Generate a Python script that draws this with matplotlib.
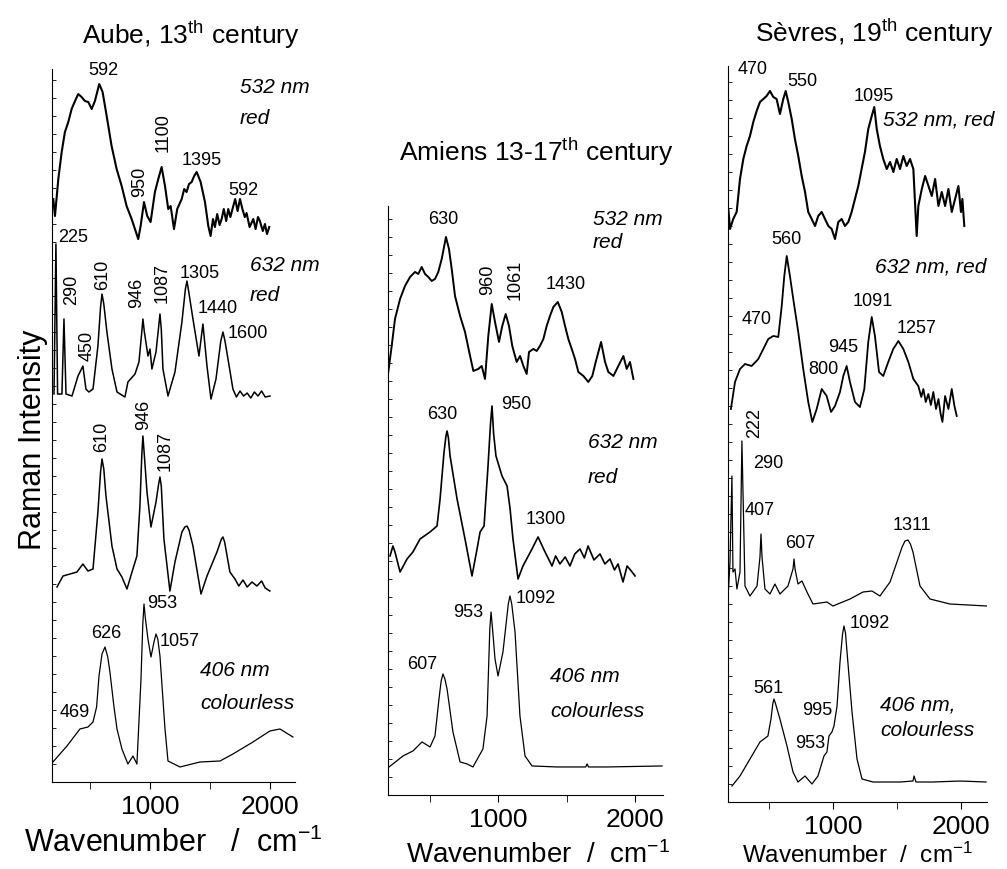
import numpy as np
import matplotlib.pyplot as plt

plt.rcParams['font.family'] = ['Liberation Sans', 'DejaVu Sans']
plt.rcParams['mathtext.fontset'] = 'custom'
plt.rcParams['mathtext.rm'] = 'Liberation Sans'
plt.rcParams['mathtext.it'] = 'Liberation Sans:italic'

# ---- Aube, 13th century ----
aube_532_wn = [194, 208, 236, 264, 291, 319, 347, 375, 402, 430, 458, 486, 514, 541, 577, 605,
               639, 680, 722, 764, 805, 847, 883, 902, 922, 950, 977, 1005, 1041, 1069, 1097,
               1125, 1152, 1172, 1200, 1227, 1264, 1285, 1305, 1325, 1347, 1368, 1389, 1422,
               1458, 1486, 1505, 1525, 1541, 1560, 1580, 1597, 1615, 1635, 1652, 1670, 1694,
               1710, 1730, 1750, 1770, 1790, 1805, 1830, 1861, 1880, 1900, 1916, 1940, 1958,
               1975, 1994]
aube_532_int = [40, 23, 60, 87, 107, 117, 130, 138, 145, 142, 138, 137, 130, 138, 155, 147,
                123, 93, 70, 53, 33, 20, 7, 0, 13, 37, 23, 17, 47, 60, 72,
                53, 30, 33, 10, 30, 40, 50, 47, 55, 57, 63, 67, 57,
                37, 13, 3, 20, 12, 25, 14, 20, 30, 18, 30, 22, 33,
                40, 28, 40, 30, 22, 26, 12, 20, 10, 22, 18, 8, 15,
                5, 12]

aube_632_wn = [200, 216, 230, 266, 283, 300, 350, 400, 441, 466, 491, 525, 566, 588, 600, 615,
               641, 683, 725, 791, 816, 875, 908, 930, 941, 952, 983, 1000, 1016, 1050, 1072,
               1083, 1094, 1108, 1150, 1208, 1266, 1295, 1308, 1322, 1358, 1408, 1441, 1475,
               1508, 1550, 1590, 1608, 1625, 1650, 1691, 1720, 1750, 1780, 1810, 1840, 1870,
               1900, 1930, 1960, 2000]
aube_632_int = [5, 155, 5, 5, 80, 5, 3, 23, 33, 10, 7, 10, 53, 92, 105, 95,
                67, 30, 7, 2, 17, 25, 37, 65, 80, 68, 43, 50, 30, 47, 72,
                85, 70, 30, 3, 27, 77, 110, 118, 108, 80, 43, 75, 33,
                0, 20, 58, 67, 58, 40, 10, 2, 8, 3, 6, 1, 7,
                3, 8, 2, 3]

aube_mid_wn = [225, 275, 391, 441, 483, 525, 566, 588, 600, 615, 633, 683, 725, 766, 808, 850,
               891, 916, 932, 941, 952, 975, 1008, 1050, 1072, 1083, 1094, 1116, 1166, 1208,
               1266, 1290, 1308, 1325, 1358, 1425, 1475, 1558, 1595, 1608, 1622, 1666, 1708,
               1740, 1775, 1810, 1850, 1891, 1930, 1960, 1999]
aube_mid_int = [7, 18, 22, 30, 23, 25, 82, 122, 135, 125, 98, 48, 25, 17, 5, 22,
                38, 88, 140, 158, 140, 102, 67, 92, 110, 117, 108, 55, 3, 32,
                62, 67, 68, 64, 48, 0, 18, 42, 55, 57, 52, 22, 15,
                8, 14, 7, 12, 8, 13, 6, 3]

aube_406_wn = [191, 308, 416, 483, 525, 555, 575, 600, 625, 648, 666, 700, 725, 766, 816, 858,
               891, 925, 940, 950, 962, 983, 1008, 1035, 1050, 1065, 1083, 1125, 1150, 1250,
               1416, 1583, 1691, 1858, 1999, 2083, 2191]
aube_406_int = [7, 23, 40, 42, 47, 62, 93, 115, 122, 112, 97, 62, 40, 20, 5, 13,
                5, 90, 145, 165, 150, 130, 112, 128, 135, 130, 113, 40, 8, 2,
                7, 8, 15, 27, 38, 40, 32]

# ---- Amiens 13-17th century ----
amiens_532_wn = [199, 224, 248, 285, 321, 358, 394, 418, 443, 467, 491, 516, 540, 564, 589, 620,
                 642, 662, 686, 723, 759, 796, 820, 856, 881, 905, 929, 954, 978, 1007, 1031,
                 1056, 1080, 1104, 1136, 1161, 1185, 1209, 1226, 1258, 1282, 1306, 1331, 1355,
                 1379, 1404, 1436, 1465, 1489, 1513, 1538, 1562, 1586, 1623, 1659, 1688, 1713,
                 1752, 1781, 1805, 1842, 1878, 1915, 1939, 1963, 1988]
amiens_532_int = [12, 38, 65, 85, 98, 107, 112, 110, 117, 110, 107, 103, 105, 112, 125, 147,
                  135, 115, 88, 68, 52, 28, 13, 15, 18, 5, 48, 80, 62, 42, 58,
                  70, 58, 38, 22, 28, 18, 10, 32, 35, 33, 38, 45, 58,
                  68, 77, 82, 72, 58, 45, 35, 25, 12, 8, 2, 8, 22,
                  42, 22, 12, 8, 18, 28, 15, 22, 5]

amiens_632_wn = [212, 233, 248, 285, 336, 379, 431, 504, 555, 577, 606, 620, 628, 638, 650, 701,
                 759, 810, 847, 869, 898, 927, 945, 956, 968, 985, 1029, 1066, 1088, 1109, 1146,
                 1182, 1248, 1292, 1343, 1394, 1420, 1452, 1490, 1525, 1560, 1598, 1630, 1657,
                 1700, 1744, 1780, 1817, 1850, 1876, 1912, 1942, 1978, 2000]
amiens_632_int = [28, 38, 32, 12, 25, 32, 45, 52, 58, 85, 132, 148, 153, 146, 128, 85,
                  45, 8, 35, 52, 58, 118, 160, 178, 150, 128, 108, 98, 75, 45, 5,
                  18, 35, 47, 32, 18, 28, 20, 27, 18, 30, 35, 26, 38,
                  24, 30, 20, 25, 14, 20, 2, 18, 12, 8]

amiens_406_wn = [204, 233, 306, 379, 445, 504, 540, 569, 585, 598, 612, 628, 671, 723, 774, 817,
                 890, 920, 940, 949, 960, 978, 1000, 1036, 1075, 1087, 1100, 1124, 1160, 1197,
                 1248, 1431, 1640, 1650, 1660, 1796, 2197]
amiens_406_int = [2, 5, 13, 18, 27, 22, 33, 70, 88, 95, 90, 80, 37, 7, 5, 2,
                  20, 53, 140, 157, 140, 110, 93, 117, 165, 173, 165, 137, 53, 13,
                  3, 2, 2, 5, 2, 2, 3]

# ---- Sevres, 19th century ----
sevres_532_wn = [183, 196, 221, 248, 274, 300, 326, 352, 378, 404, 430, 456, 482, 508, 534, 560,
                 586, 612, 631, 651, 678, 703, 729, 756, 782, 807, 834, 860, 885, 912, 938, 964,
                 990, 1016, 1042, 1068, 1094, 1120, 1146, 1172, 1198, 1224, 1250, 1276, 1303,
                 1323, 1342, 1367, 1393, 1420, 1446, 1472, 1498, 1524, 1550, 1576, 1602, 1628,
                 1654, 1667, 1694, 1720, 1746, 1772, 1798, 1824, 1850, 1876, 1902, 1928, 1954,
                 1980, 2000, 2011, 2026]
sevres_532_int = [30, 10, 20, 27, 60, 80, 93, 103, 117, 128, 137, 140, 143, 148, 142, 140,
                  125, 140, 148, 137, 120, 100, 83, 63, 47, 27, 20, 13, 23, 27, 20, 13,
                  10, 0, 17, 20, 13, 17, 27, 40, 53, 70, 87, 110, 123,
                  132, 110, 93, 80, 70, 77, 67, 80, 70, 83, 73, 80, 70,
                  3, 33, 50, 63, 53, 43, 60, 33, 47, 33, 50, 27, 40,
                  53, 27, 40, 13]

sevres_632_wn = [203, 235, 274, 313, 365, 417, 456, 495, 534, 573, 600, 620, 639, 664, 690, 729,
                 768, 807, 839, 873, 912, 951, 985, 1016, 1055, 1081, 1107, 1133, 1172, 1211,
                 1245, 1276, 1303, 1328, 1360, 1393, 1432, 1471, 1511, 1550, 1589, 1628, 1667,
                 1690, 1706, 1725, 1745, 1765, 1784, 1805, 1824, 1840, 1855, 1876, 1902, 1928,
                 1949, 1967]
sevres_632_int = [18, 45, 58, 63, 61, 68, 78, 88, 91, 90, 121, 151, 171, 151, 128, 95,
                  58, 25, 5, 18, 38, 31, 15, 21, 35, 51, 61, 45, 25, 20,
                  38, 85, 110, 91, 55, 51, 65, 78, 86, 78, 65, 48, 41,
                  30, 38, 25, 33, 22, 35, 18, 28, 14, 5, 31, 18, 38,
                  21, 11]

sevres_mid_wn = [180, 196, 211, 219, 235, 250, 274, 289, 313, 352, 407, 430, 438, 446, 469, 508,
                 547, 586, 649, 688, 696, 704, 727, 758, 797, 844, 953, 1000, 1133, 1235, 1305,
                 1367, 1446, 1508, 1540, 1563, 1586, 1605, 1625, 1680, 1758, 1914, 2203]
sevres_mid_int = [8, 45, 131, 35, 38, 18, 35, 166, 21, 11, 21, 50, 73, 50, 18, 13,
                  23, 13, 21, 38, 48, 38, 23, 26, 15, 3, 5, 1, 8, 15, 16,
                  11, 25, 48, 60, 66, 67, 63, 55, 21, 8, 3, 1]

sevres_406_wn = [211, 274, 352, 430, 492, 516, 530, 539, 550, 586, 641, 688, 727, 782, 836, 883,
                 930, 953, 969, 992, 1008, 1032, 1055, 1075, 1086, 1098, 1110, 1149, 1188, 1227,
                 1313, 1524, 1625, 1633, 1649, 1782, 1993, 2196]
sevres_406_int = [0, 10, 27, 44, 50, 67, 82, 87, 83, 67, 40, 14, 4, 10, 2, 10,
                  30, 34, 50, 54, 60, 80, 124, 152, 160, 153, 134, 74, 27, 7,
                  4, 4, 5, 10, 4, 4, 5, 4]

aube_offsets = [543, 383, 188, 13]
amiens_offsets = [411, 211, 26]
sevres_offsets = [563, 375, 195, 16]

fig = plt.figure(figsize=(10.07, 8.70), dpi=100)
W, H = 1007.0, 870.0


def setup(ax, xlim, ytop):
    ax.set_xlim(*xlim)
    ax.set_ylim(0, ytop)
    for s in ['top', 'right']:
        ax.spines[s].set_visible(False)
    ax.set_xticks([1000, 2000])
    ax.set_xticks([500, 1500], minor=True)
    ax.set_yticks(np.arange(0, ytop, 18))
    ax.set_yticklabels([])
    ax.tick_params(axis='y', direction='in', length=3, width=0.6)
    ax.tick_params(axis='x', which='both', direction='out', length=5, labelsize=19)


def draw(ax, wns, ints, offsets, widths):
    for wn, inten, off, lw in zip(wns, ints, offsets, widths):
        ax.plot(wn, np.array(inten) + off, color='black', lw=lw)


tk = dict(fontsize=13, ha='center', va='center')
it = dict(fontsize=15, style='italic', ha='left', va='center')

# Panel 1
ax1 = fig.add_axes([0.0516, 0.1, 0.2413, 0.8195])
setup(ax1, (183, 2208), 713)
draw(ax1, [aube_532_wn, aube_632_wn, aube_mid_wn, aube_406_wn],
     [aube_532_int, aube_632_int, aube_mid_int, aube_406_int], aube_offsets, [1.5, 1.1, 1.1, 0.9])
fig.text(191 / W, 1 - 35 / H, 'Aube, 13$^{\\rm th}$ century', fontsize=19, ha='center', va='center')
ax1.text(608, 713, '592', clip_on=False, **tk)
ax1.text(1750, 696, '532 nm', **it)
ax1.text(1750, 665, 'red', **it)
ax1.text(916, 601, '950', rotation=90, **tk)
ax1.text(1108, 650, '1100', rotation=90, **tk)
ax1.text(1433, 623, '1395', **tk)
ax1.text(1775, 593, '592', **tk)
ax1.text(358, 546, '225', **tk)
ax1.text(1833, 518, '632 nm', clip_on=False, **it)
ax1.text(1833, 488, 'red', **it)
ax1.text(350, 493, '290', rotation=90, **tk)
ax1.text(475, 437, '450', rotation=90, **tk)
ax1.text(608, 508, '610', rotation=90, **tk)
ax1.text(891, 490, '946', rotation=90, **tk)
ax1.text(1100, 500, '1087', rotation=90, **tk)
ax1.text(1416, 510, '1305', **tk)
ax1.text(1566, 475, '1440', **tk)
ax1.text(1816, 450, '1600', **tk)
ax1.text(600, 346, '610', rotation=90, **tk)
ax1.text(950, 368, '946', rotation=90, **tk)
ax1.text(1125, 332, '1087', rotation=90, **tk)
ax1.text(1100, 180, '953', **tk)
ax1.text(633, 150, '626', **tk)
ax1.text(1250, 142, '1057', **tk)
ax1.text(375, 71, '469', **tk)
ax1.text(1416, 113, '406 nm', **it)
ax1.text(1416, 80, 'colourless', **it)
fig.text(173 / W, 1 - 843 / H, 'Wavenumber   /  cm$^{-1}$', fontsize=22, ha='center', va='center')
fig.text(33 / W, 1 - 440 / H, 'Raman Intensity', rotation=90, fontsize=22, ha='center', va='center')

# Panel 2
ax2 = fig.add_axes([0.3853, 0.0851, 0.2731, 0.677])
setup(ax2, (197, 2204), 589)
draw(ax2, [amiens_532_wn, amiens_632_wn, amiens_406_wn],
     [amiens_532_int, amiens_632_int, amiens_406_int], amiens_offsets, [1.4, 1.2, 0.9])
fig.text(536 / W, 1 - 152 / H, 'Amiens 13-17$^{\\rm th}$ century', fontsize=19, ha='center', va='center')
ax2.text(1693, 576, '532 nm', **it)
ax2.text(1693, 553, 'red', **it)
ax2.text(598, 576, '630', **tk)
ax2.text(927, 516, '960', rotation=90, **tk)
ax2.text(1124, 516, '1061', rotation=90, **tk)
ax2.text(1496, 511, '1430', **tk)
ax2.text(591, 381, '630', **tk)
ax2.text(1131, 391, '950', **tk)
ax2.text(1657, 353, '632 nm', **it)
ax2.text(1657, 318, 'red', **it)
ax2.text(1350, 276, '1300', **tk)
ax2.text(1277, 197, '1092', **tk)
ax2.text(781, 183, '953', **tk)
ax2.text(445, 131, '607', **tk)
ax2.text(1379, 119, '406 nm', **it)
ax2.text(1379, 84, 'colourless', **it)
fig.text(538 / W, 1 - 855 / H, 'Wavenumber  /  cm$^{-1}$', fontsize=20, ha='center', va='center')

# Panel 3
ax3 = fig.add_axes([0.7229, 0.077, 0.2572, 0.846])
setup(ax3, (180, 2203), 736)
draw(ax3, [sevres_532_wn, sevres_632_wn, sevres_mid_wn, sevres_406_wn],
     [sevres_532_int, sevres_632_int, sevres_mid_int, sevres_406_int], sevres_offsets, [1.5, 1.3, 0.9, 0.9])
fig.text(874 / W, 1 - 33 / H, 'Sèvres, 19$^{\\rm th}$ century', fontsize=19, ha='center', va='center')
ax3.text(375, 733, '470', clip_on=False, **tk)
ax3.text(758, 721, '550', **tk)
ax3.text(1320, 706, '1095', **tk)
ax3.text(1391, 683, '532 nm, red', clip_on=False, **it)
ax3.text(633, 563, '560', **tk)
ax3.text(1328, 536, '632 nm, red', clip_on=False, **it)
ax3.text(407, 483, '470', **tk)
ax3.text(1313, 501, '1091', **tk)
ax3.text(1657, 474, '1257', **tk)
ax3.text(1078, 455, '945', **tk)
ax3.text(922, 433, '800', **tk)
ax3.text(391, 380, '222', rotation=90, **tk)
ax3.text(492, 340, '290', **tk)
ax3.text(430, 293, '407', **tk)
ax3.text(742, 260, '607', **tk)
ax3.text(1617, 278, '1311', **tk)
ax3.text(1289, 180, '1092', **tk)
ax3.text(492, 115, '561', **tk)
ax3.text(875, 93, '995', **tk)
ax3.text(820, 60, '953', **tk)
ax3.text(1367, 98, '406 nm,', **it)
ax3.text(1367, 73, 'colourless', **it)
fig.text(857 / W, 1 - 855 / H, 'Wavenumber  /  cm$^{-1}$', fontsize=17.5, ha='center', va='center')

fig.savefig('out.png', dpi=100)
